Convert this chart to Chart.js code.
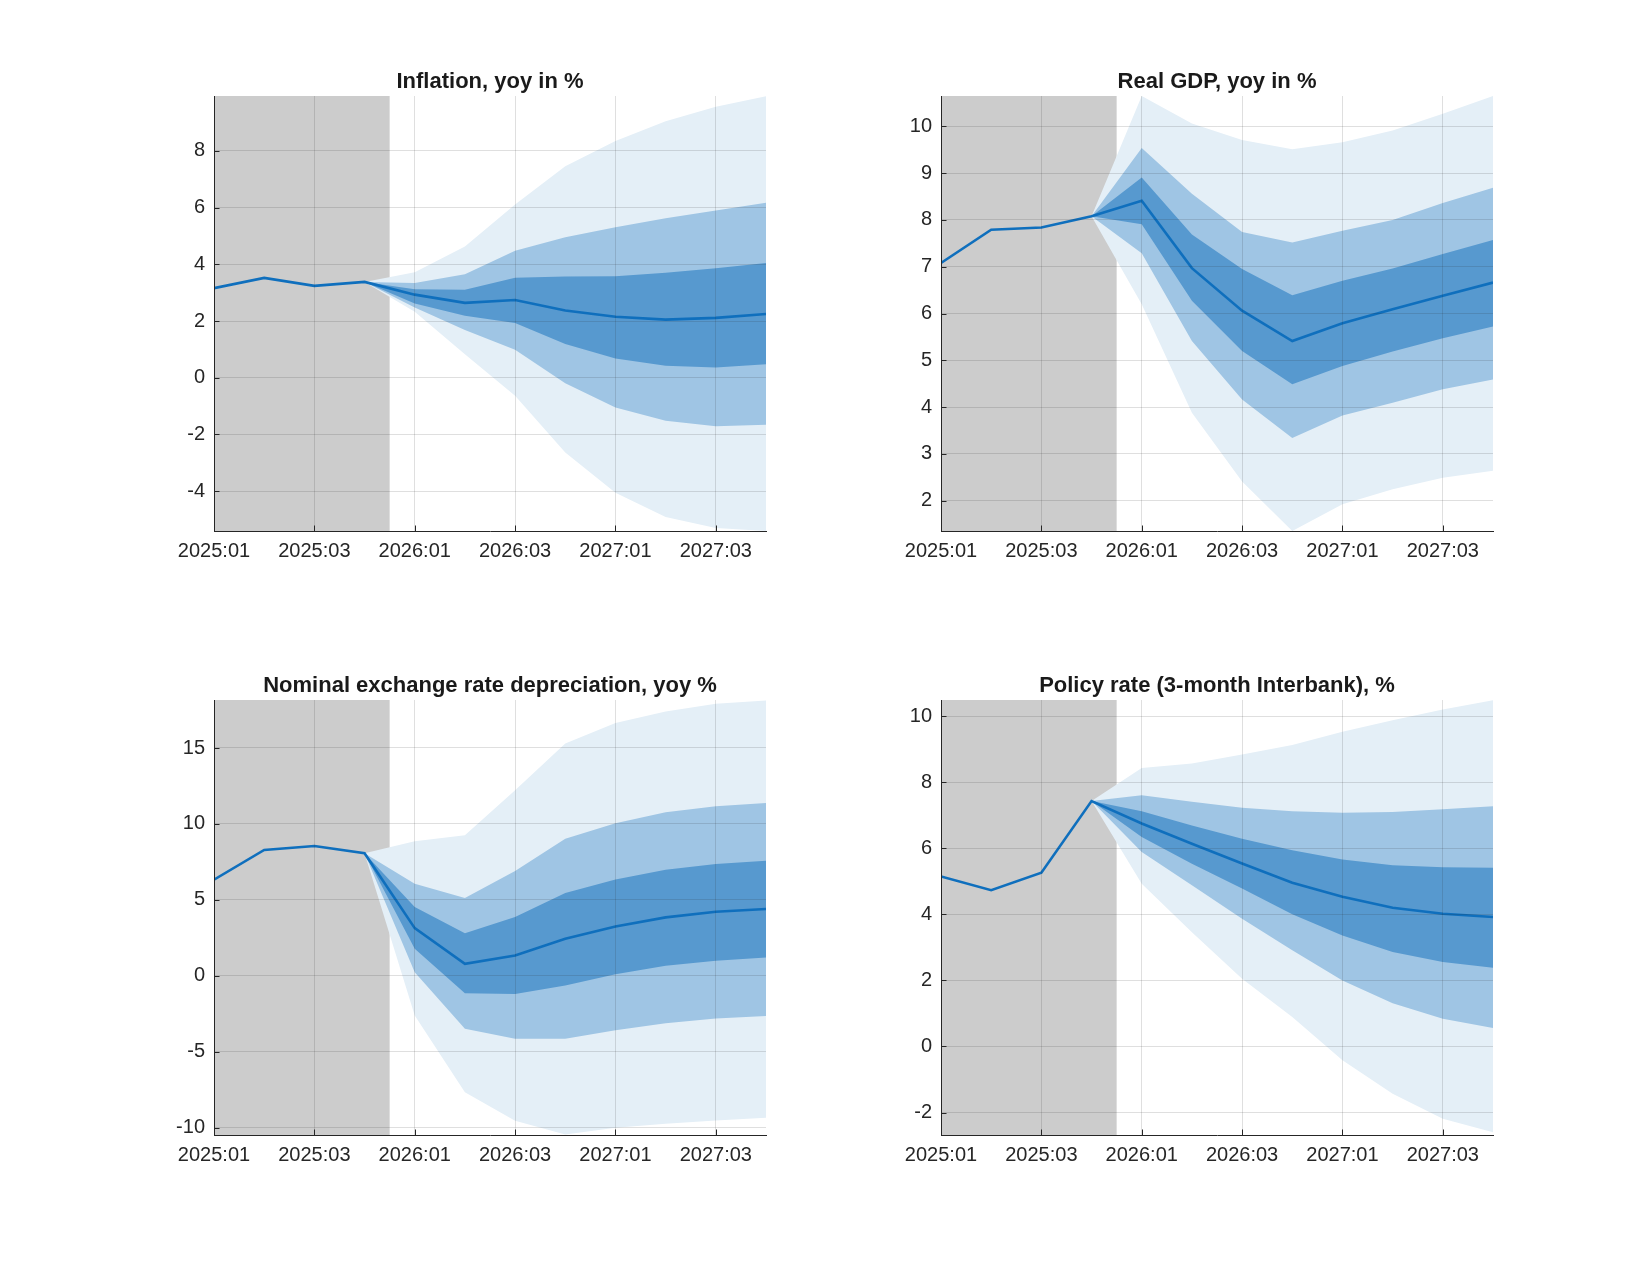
<!DOCTYPE html>
<html>
<head>
<meta charset="utf-8">
<script src="https://cdn.jsdelivr.net/npm/chart.js@4.4.1/dist/chart.umd.min.js"></script>
<style>
  body { margin: 0; background: #fff; }
  #page { position: relative; width: 1650px; height: 1275px; background: #fff; }
  canvas { position: absolute; }
</style>
</head>
<body>
<div id="page">
  <canvas id="c1" width="672" height="525"></canvas>
  <canvas id="c2" width="672" height="525"></canvas>
  <canvas id="c3" width="672" height="525"></canvas>
  <canvas id="c4" width="672" height="525"></canvas>
</div>
<script>
// quarters on the x axis, labelled every second one
const quarters = ["2025:01", "2025:02", "2025:03", "2025:04", "2026:01", "2026:02",
  "2026:03", "2026:04", "2027:01", "2027:02", "2027:03", "2027:04"];
const tickQuarters = ["2025:01", "2025:03", "2026:01", "2026:03", "2027:01", "2027:03"];
const histCount = 4; // 2025:01..2025:04 are actuals, the fan starts from 2025:04

// Inflation, yoy in %
const inflMedian = [3.16, 3.52, 3.24, 3.38, 2.93, 2.64, 2.74, 2.37, 2.15, 2.05, 2.11, 2.25];
const inflDarkHi = [3.12, 3.10, 3.53, 3.57, 3.58, 3.70, 3.86, 4.05];
const inflDarkLo = [2.62, 2.19, 1.93, 1.19, 0.68, 0.42, 0.36, 0.47];
const inflMidHi = [3.34, 3.65, 4.48, 4.96, 5.31, 5.63, 5.90, 6.17];
const inflMidLo = [2.48, 1.68, 0.99, -0.20, -1.05, -1.52, -1.71, -1.66];
const inflLightHi = [3.72, 4.63, 6.11, 7.46, 8.35, 9.05, 9.56, 9.93];
const inflLightLo = [2.33, 0.83, -0.64, -2.64, -4.06, -4.92, -5.30, -5.41];
const inflTicks = [-4, -2, 0, 2, 4, 6, 8];
const inflRange = [-5.41, 9.94];

// Real GDP, yoy in %
const gdpMedian = [7.08, 7.79, 7.84, 8.08, 8.41, 6.97, 6.06, 5.41, 5.79, 6.09, 6.38, 6.66];
const gdpDarkHi = [8.91, 7.69, 6.95, 6.39, 6.70, 6.96, 7.27, 7.57];
const gdpDarkLo = [7.91, 6.27, 5.20, 4.49, 4.88, 5.19, 5.47, 5.72];
const gdpMidHi = [9.54, 8.56, 7.74, 7.52, 7.77, 8.00, 8.36, 8.69];
const gdpMidLo = [7.29, 5.41, 4.16, 3.34, 3.82, 4.09, 4.38, 4.59];
const gdpLightHi = [10.65, 10.06, 9.71, 9.51, 9.66, 9.91, 10.27, 10.65];
const gdpLightLo = [6.20, 3.88, 2.41, 1.35, 1.92, 2.24, 2.49, 2.64];
const gdpTicks = [2, 3, 4, 5, 6, 7, 8, 9, 10];
const gdpRange = [1.35, 10.65];

// Nominal exchange rate depreciation, yoy %
const fxMedian = [6.33, 8.29, 8.55, 8.07, 3.14, 0.79, 1.34, 2.44, 3.25, 3.85, 4.22, 4.40];
const fxDarkHi = [4.53, 2.81, 3.87, 5.45, 6.35, 6.99, 7.36, 7.58];
const fxDarkLo = [1.78, -1.14, -1.19, -0.64, 0.11, 0.66, 0.99, 1.21];
const fxMidHi = [6.07, 5.12, 6.90, 9.03, 10.04, 10.77, 11.16, 11.38];
const fxMidLo = [0.24, -3.49, -4.15, -4.15, -3.58, -3.12, -2.81, -2.64];
const fxLightHi = [8.86, 9.25, 12.22, 15.30, 16.64, 17.41, 17.91, 18.13];
const fxLightLo = [-2.62, -7.67, -9.54, -10.45, -10.0, -9.74, -9.52, -9.34];
const fxTicks = [-10, -5, 0, 5, 10, 15];
const fxRange = [-10.48, 18.16];

// Policy rate (3-month Interbank), %
const polMedian = [5.15, 4.73, 5.26, 7.43, 6.75, 6.14, 5.54, 4.96, 4.53, 4.20, 4.02, 3.92];
const polDarkHi = [7.12, 6.69, 6.29, 5.94, 5.66, 5.49, 5.43, 5.41];
const polDarkLo = [6.34, 5.53, 4.78, 4.00, 3.36, 2.86, 2.56, 2.38];
const polMidHi = [7.61, 7.41, 7.23, 7.12, 7.08, 7.10, 7.18, 7.27];
const polMidLo = [5.89, 4.88, 3.87, 2.91, 2.00, 1.31, 0.84, 0.56];
const polLightHi = [8.43, 8.57, 8.84, 9.13, 9.53, 9.88, 10.20, 10.48];
const polLightLo = [4.93, 3.46, 2.05, 0.89, -0.42, -1.43, -2.19, -2.60];
const polTicks = [-2, 0, 2, 4, 6, 8, 10];
const polRange = [-2.68, 10.49];

const FONT = "'Liberation Sans', Arial, Helvetica, sans-serif";
const AXIS = "#262626";
const GRID = "rgba(38,38,38,0.15)";
const LINE = "#0f6fbd";
const DARK = "#5799cf";
const MID = "#9fc5e4";
const LIGHT = "#e4eff7";

// grey block over the actuals + MATLAB-style inward tick marks
const panelPlugin = {
  id: "panel",
  beforeDatasetsDraw(chart) {
    const { ctx, chartArea, scales } = chart;
    const x0 = scales.x.getPixelForValue(0);
    const x1 = scales.x.getPixelForValue(histCount - 0.5);
    ctx.save();
    ctx.fillStyle = "#cccccc";
    ctx.fillRect(x0, chartArea.top, x1 - x0, chartArea.bottom - chartArea.top);
    ctx.restore();
  },
  afterDraw(chart) {
    const { ctx, chartArea, scales } = chart;
    ctx.save();
    ctx.strokeStyle = AXIS;
    ctx.lineWidth = 1;
    ctx.beginPath();
    scales.x.ticks.forEach(t => {
      const px = Math.round(scales.x.getPixelForValue(t.value)) + 0.5;
      ctx.moveTo(px, chartArea.bottom);
      ctx.lineTo(px, chartArea.bottom - 5.5);
    });
    scales.y.ticks.forEach(t => {
      const py = Math.round(scales.y.getPixelForValue(t.value)) + 0.5;
      ctx.moveTo(chartArea.left, py);
      ctx.lineTo(chartArea.left + 5.5, py);
    });
    ctx.stroke();
    ctx.restore();
  }
};

function bandPoints(median, values) {
  const start = histCount - 1;
  return [{ x: start, y: median[start] }].concat(values.map((v, k) => ({ x: start + 1 + k, y: v })));
}

function band(median, values, color, order, fill) {
  return {
    data: bandPoints(median, values),
    backgroundColor: color,
    borderColor: "rgba(0,0,0,0)",
    borderWidth: 0,
    pointRadius: 0,
    tension: 0,
    fill: fill ? "+1" : false,
    order: order
  };
}

function makePanel(id, left, top, title, median, bands, yTicks, yRange) {
  const canvas = document.getElementById(id);
  canvas.style.left = (left - 90) + "px";
  canvas.style.top = (top - 40) + "px";
  const tickFont = { family: FONT, size: 20 };
  return new Chart(canvas.getContext("2d"), {
    type: "line",
    data: {
      datasets: [
        {
          data: median.map((v, i) => ({ x: i, y: v })),
          borderColor: LINE,
          borderWidth: 2.6,
          pointRadius: 0,
          tension: 0,
          fill: false,
          order: 0
        },
        band(median, bands[0], DARK, 1, true),
        band(median, bands[1], DARK, 1, false),
        band(median, bands[2], MID, 2, true),
        band(median, bands[3], MID, 2, false),
        band(median, bands[4], LIGHT, 3, true),
        band(median, bands[5], LIGHT, 3, false)
      ]
    },
    options: {
      responsive: false,
      animation: false,
      devicePixelRatio: 1,
      layout: { padding: { left: 0, right: 30, top: 0, bottom: 0 } },
      plugins: {
        legend: { display: false },
        tooltip: { enabled: false },
        title: {
          display: true,
          fullSize: false,
          text: title,
          color: "#1a1a1a",
          font: { family: FONT, size: 22, weight: "bold", lineHeight: 1.1 },
          padding: { top: 13.8, bottom: 2 }
        }
      },
      scales: {
        x: {
          type: "linear",
          min: 0,
          max: quarters.length - 1,
          afterFit: s => { s.height = 50; },
          afterBuildTicks: s => { s.ticks = tickQuarters.map(q => ({ value: quarters.indexOf(q) })); },
          ticks: {
            callback: v => quarters[v],
            color: AXIS,
            font: tickFont,
            padding: 8,
            maxRotation: 0,
            autoSkip: false
          },
          grid: { color: GRID, drawTicks: false, z: 1 },
          border: { color: AXIS, width: 1, z: 2 }
        },
        y: {
          min: yRange[0],
          max: yRange[1],
          afterFit: s => { s.width = 90; },
          afterBuildTicks: s => { s.ticks = yTicks.map(v => ({ value: v })); },
          ticks: { color: AXIS, font: tickFont, padding: 9 },
          grid: { color: GRID, drawTicks: false, z: 1 },
          border: { color: AXIS, width: 1, z: 2 }
        }
      }
    },
    plugins: [panelPlugin]
  });
}

makePanel("c1", 214, 96, "Inflation, yoy in %", inflMedian,
  [inflDarkHi, inflDarkLo, inflMidHi, inflMidLo, inflLightHi, inflLightLo], inflTicks, inflRange);
makePanel("c2", 941, 96, "Real GDP, yoy in %", gdpMedian,
  [gdpDarkHi, gdpDarkLo, gdpMidHi, gdpMidLo, gdpLightHi, gdpLightLo], gdpTicks, gdpRange);
makePanel("c3", 214, 700, "Nominal exchange rate depreciation, yoy %", fxMedian,
  [fxDarkHi, fxDarkLo, fxMidHi, fxMidLo, fxLightHi, fxLightLo], fxTicks, fxRange);
makePanel("c4", 941, 700, "Policy rate (3-month Interbank), %", polMedian,
  [polDarkHi, polDarkLo, polMidHi, polMidLo, polLightHi, polLightLo], polTicks, polRange);
</script>
</body>
</html>
